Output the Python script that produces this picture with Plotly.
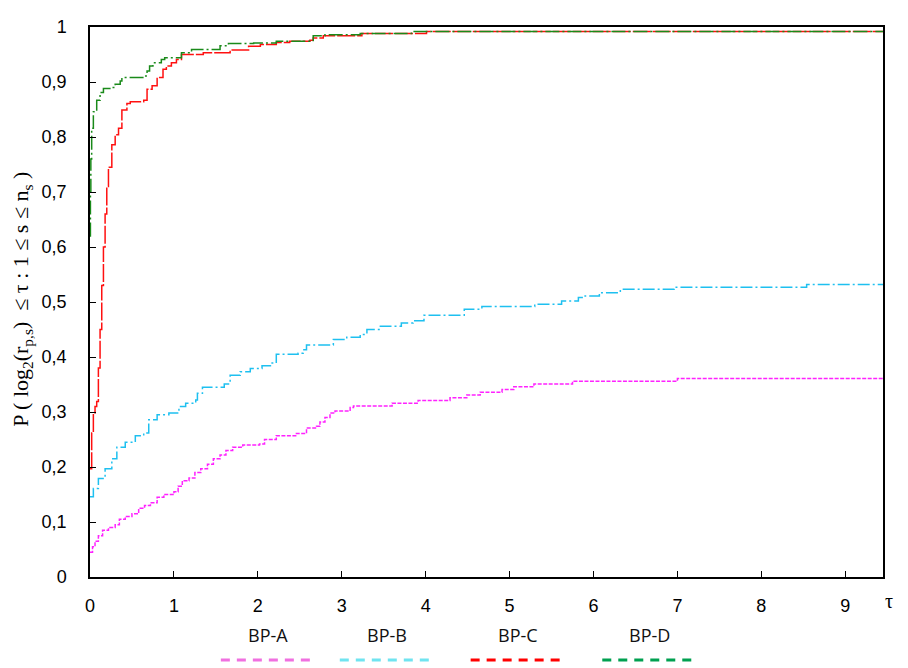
import plotly.graph_objects as go

series_names = ["BP-A", "BP-B", "BP-C", "BP-D"]

tau_a = [0, 0.03, 0.06, 0.1, 0.15, 0.22, 0.3, 0.35, 0.42, 0.5, 0.58, 0.65, 0.72, 0.8, 0.88, 1.0,
         1.05, 1.1, 1.18, 1.25, 1.32, 1.4, 1.47, 1.55, 1.62, 1.7, 1.82, 2.02, 2.08, 2.22, 2.46,
         2.58, 2.70, 2.74, 2.8, 2.86, 2.92, 3.10, 3.14, 3.6, 3.91, 4.29, 4.49, 4.65, 4.91, 5.05,
         5.29, 5.75, 7.0, 9.45]
p_a = [0.045, 0.055, 0.065, 0.075, 0.085, 0.09, 0.095, 0.105, 0.11, 0.115, 0.125, 0.13, 0.135,
       0.145, 0.15, 0.155, 0.165, 0.175, 0.18, 0.19, 0.197, 0.205, 0.215, 0.222, 0.23, 0.236,
       0.24, 0.242, 0.25, 0.257, 0.261, 0.271, 0.274, 0.282, 0.29, 0.298, 0.302, 0.308, 0.311,
       0.316, 0.321, 0.326, 0.331, 0.336, 0.341, 0.346, 0.351, 0.356, 0.361, 0.361]

tau_b = [0, 0.04, 0.1, 0.18, 0.26, 0.32, 0.42, 0.54, 0.64, 0.70, 0.80, 0.94, 1.06, 1.14, 1.26,
         1.28, 1.34, 1.6, 1.67, 1.79, 1.91, 2.05, 2.15, 2.22, 2.48, 2.54, 2.58, 2.9, 3.06, 3.22,
         3.30, 3.46, 3.71, 3.85, 3.98, 4.46, 4.67, 5.30, 5.62, 5.82, 5.90, 6.07, 6.32, 6.96,
         8.54, 9.45]
p_b = [0.146, 0.161, 0.179, 0.197, 0.215, 0.236, 0.245, 0.257, 0.262, 0.286, 0.295, 0.298, 0.31,
       0.316, 0.322, 0.334, 0.345, 0.351, 0.367, 0.373, 0.379, 0.384, 0.389, 0.405, 0.407, 0.413,
       0.422, 0.432, 0.436, 0.441, 0.45, 0.456, 0.462, 0.466, 0.476, 0.487, 0.492, 0.496, 0.502,
       0.508, 0.511, 0.517, 0.523, 0.527, 0.532, 0.532]

tau_c = [0, 0.02, 0.04, 0.06, 0.08, 0.1, 0.12, 0.14, 0.16, 0.18, 0.2, 0.22, 0.26, 0.30, 0.34,
         0.38, 0.44, 0.48, 0.64, 0.68, 0.74, 0.80, 0.87, 0.91, 0.97, 1.03, 1.09, 1.35, 1.67, 1.89,
         2.03, 2.22, 2.38, 2.62, 2.66, 2.78, 3.24, 4.01, 9.45]
p_c = [0.197, 0.262, 0.298, 0.31, 0.319, 0.38, 0.45, 0.53, 0.6, 0.66, 0.71, 0.745, 0.786, 0.804,
       0.816, 0.849, 0.861, 0.864, 0.867, 0.887, 0.893, 0.908, 0.923, 0.929, 0.935, 0.941, 0.95,
       0.953, 0.958, 0.965, 0.968, 0.972, 0.974, 0.976, 0.98, 0.984, 0.988, 0.992, 0.992]

tau_d = [0, 0.005, 0.01, 0.02, 0.04, 0.08, 0.12, 0.16, 0.26, 0.30, 0.36, 0.38, 0.64, 0.68, 0.71,
         0.75, 0.85, 0.89, 1.09, 1.21, 1.55, 1.65, 1.95, 2.22, 2.66, 2.8, 3.22, 3.83, 9.45]
p_d = [0.62, 0.70, 0.76, 0.816, 0.846, 0.867, 0.881, 0.888, 0.89, 0.896, 0.902, 0.908, 0.911,
       0.92, 0.929, 0.935, 0.941, 0.944, 0.953, 0.959, 0.966, 0.97, 0.971, 0.974, 0.984, 0.986,
       0.988, 0.992, 0.992]

y_tickvals = [0, 0.1, 0.2, 0.3, 0.4, 0.5, 0.6, 0.7, 0.8, 0.9, 1.0]
y_ticktext = ["0", "0,1", "0,2", "0,3", "0,4", "0,5", "0,6", "0,7", "0,8", "0,9", "1"]
x_tickvals = [0, 1, 2, 3, 4, 5, 6, 7, 8, 9]
x_ticktext = ["0", "1", "2", "3", "4", "5", "6", "7", "8", "9"]

line_colors = ["#ff22ff", "#1ec0f0", "#ff1010", "#1a8a1a"]
legend_colors = ["#f070e0", "#70e4f0", "#ff0000", "#00a050"]
dashes = ["4px,1.5px", "12px,3px,2px,3px", "18px,2px", "14px,3px,2px,3px"]

xs = [tau_a, tau_b, tau_c, tau_d]
ys = [p_a, p_b, p_c, p_d]

fig = go.Figure()
for name, x, y, col, dash in zip(series_names, xs, ys, line_colors, dashes):
    fig.add_trace(go.Scatter(x=x, y=y, mode="lines", name=name, line_shape="hv",
                             line=dict(color=col, width=1.5, dash=dash), showlegend=False))

# custom legend below the plot: text above dashed line sample
leg_centers = [0.225, 0.375, 0.54, 0.706]
for name, cx, col in zip(series_names, leg_centers, legend_colors):
    fig.add_annotation(x=cx, y=-0.105, xref="paper", yref="paper", text=name, showarrow=False,
                       xanchor="center", yanchor="middle",
                       font=dict(family="Open Sans, Liberation Sans", size=18, color="#111"))
    fig.add_shape(type="line", xref="paper", yref="paper", x0=cx - 0.06, x1=cx + 0.06,
                  y0=-0.151, y1=-0.151, line=dict(color=col, width=3, dash="9px,7px"))

fig.add_annotation(x=1.007, y=-0.043, xref="paper", yref="paper", text="τ", showarrow=False,
                   xanchor="center", yanchor="middle",
                   font=dict(family="Liberation Serif", size=20, color="black"))
fig.add_annotation(x=-0.085, y=0.505, xref="paper", yref="paper", textangle=-90, showarrow=False,
                   xanchor="center", yanchor="middle",
                   text="P ( log<sub>2</sub>(r<sub>p,s</sub>)  ≤ τ : 1 ≤ s ≤ n<sub>s</sub> )",
                   font=dict(family="Liberation Serif", size=22, color="black"))

axis_common = dict(showline=True, linecolor="black", linewidth=1.5, mirror=True, ticks="inside",
                   ticklen=6, tickcolor="black", tickwidth=1, showgrid=False, zeroline=False,
                   tickfont=dict(family="Liberation Sans, Arial", size=18, color="black"))
fig.update_xaxes(range=[0, 9.45], tickvals=x_tickvals, ticktext=x_ticktext,
                 ticklabelstandoff=12, **axis_common)
fig.update_yaxes(range=[0, 1.0], tickvals=y_tickvals, ticktext=y_ticktext,
                 ticklabelstandoff=18, **axis_common)

fig.update_layout(width=900, height=660, plot_bgcolor="white", paper_bgcolor="white",
                  margin=dict(l=82, r=25, t=9, b=91), showlegend=False)

fig.write_html("out.html")
